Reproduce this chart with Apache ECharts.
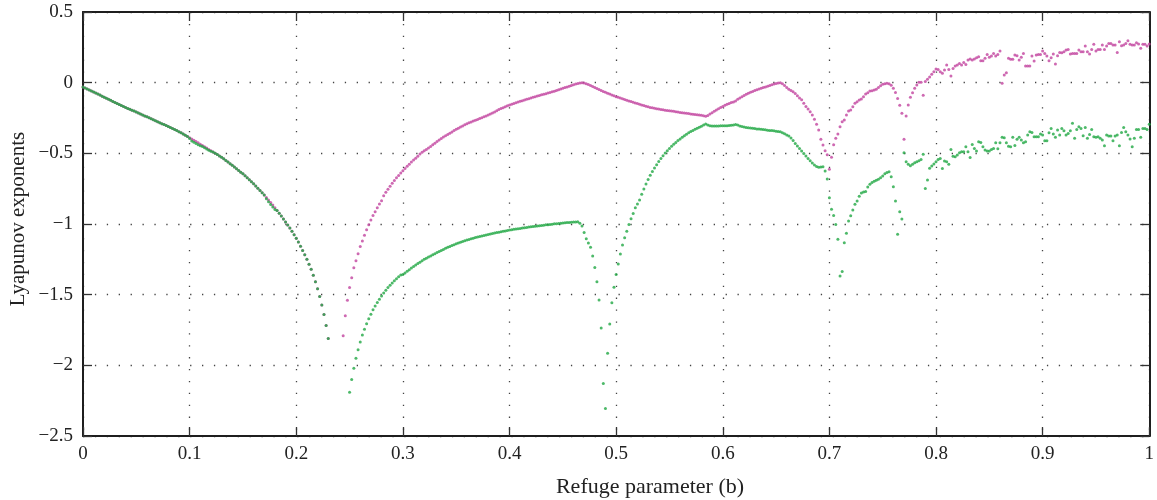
<!DOCTYPE html>
<html>
<head>
<meta charset="utf-8">
<script src="https://cdn.jsdelivr.net/npm/echarts@6/dist/echarts.min.js"></script>
<style>
  html, body { margin: 0; padding: 0; background: #ffffff; }
  #chart { width: 1157px; height: 500px; }
</style>
</head>
<body>
<div id="chart"></div>
<script>
// Sweep of the refuge parameter b, sampled every 0.002
const refugeStep = 0.002;

// Tick positions
const xTicks = [0, 0.1, 0.2, 0.3, 0.4, 0.5, 0.6, 0.7, 0.8, 0.9, 1];
const yTicks = [0.5, 0, -0.5, -1, -1.5, -2, -2.5];

// Largest Lyapunov exponent (magenta), one array per continuous stretch of b
const lyap1From0 = [
  -0.030,-0.037,-0.044,-0.052,-0.059,-0.066,-0.073,-0.081,-0.088,-0.096,
  -0.103,-0.110,-0.118,-0.125,-0.133,-0.140,-0.147,-0.154,-0.161,-0.168,
  -0.175,-0.182,-0.188,-0.195,-0.201,-0.208,-0.215,-0.222,-0.228,-0.235,
  -0.242,-0.249,-0.256,-0.262,-0.269,-0.276,-0.283,-0.290,-0.296,-0.303,
  -0.310,-0.317,-0.325,-0.332,-0.339,-0.347,-0.355,-0.363,-0.372,-0.381,
  -0.390,-0.399,-0.408,-0.417,-0.426,-0.435,-0.444,-0.454,-0.463,-0.473,
  -0.482,-0.491,-0.500,-0.509,-0.518,-0.527,-0.538,-0.550,-0.561,-0.573,
  -0.585,-0.597,-0.609,-0.621,-0.633,-0.645,-0.659,-0.673,-0.687,-0.701,
  -0.715,-0.731,-0.747,-0.763,-0.779,-0.795,-0.812,-0.830,-0.848,-0.866,
  -0.885,-0.904,-0.924,-0.944,-0.964,-0.985,-1.007,-1.029,-1.052,-1.076,
  -1.100,-1.128,-1.157,-1.187,-1.218,-1.250,-1.284,-1.320,-1.362,-1.408,
  -1.458,-1.513,-1.573,-1.640,-1.718,-1.810
];
const lyap1From0244 = [
  -1.79,-1.65,-1.54,-1.45,-1.38,-1.31,-1.26,-1.21,-1.16,-1.12,
  -1.08,-1.04,-1.005,-0.972,-0.939,-0.913,-0.885,-0.859,-0.835,
  -0.800,-0.776,-0.755,-0.733,-0.712,-0.692,-0.673,-0.656,-0.640,-0.624,
  -0.608,-0.592,-0.577,-0.562,-0.548,-0.534,-0.520,
  -0.505,-0.493,-0.482,-0.472,-0.462,-0.452,-0.440,-0.428,-0.416,-0.405,
  -0.395,-0.385,-0.376,-0.367,-0.358,-0.349,-0.339,-0.330,-0.322,-0.314,
  -0.306,-0.298,-0.290,-0.284,-0.278,-0.272,-0.266,-0.260,-0.254,-0.248,
  -0.242,-0.235,-0.228,-0.221,-0.214,-0.207,-0.199,-0.190,-0.183,-0.177,
  -0.170,-0.164,-0.158,-0.152,-0.147,-0.142,-0.137,-0.132,-0.128,-0.123,
  -0.118,-0.113,-0.108,-0.104,-0.099,-0.095,-0.091,-0.086,-0.082,-0.078,
  -0.073,-0.069,-0.064,-0.060,-0.055,-0.050,-0.045,-0.040,-0.035,-0.030,
  -0.025,-0.020,-0.015,-0.010,-0.006,-0.002,0.000
];
const lyap1From047 = [
  -0.002,-0.007,-0.013,-0.020,-0.027,-0.034,-0.041,-0.048,-0.055,-0.062,
  -0.068,-0.074,-0.081,-0.087,-0.093,-0.099,-0.104,-0.109,-0.114,-0.119,
  -0.124,-0.129,-0.134,-0.139,-0.144,-0.148,-0.153,-0.158,-0.162,-0.167,
  -0.171,-0.175,-0.178,-0.181,-0.184,-0.187,-0.190,-0.192,-0.195,-0.197,
  -0.199,-0.201,-0.203,-0.206,-0.208,-0.211,-0.213,-0.215,-0.217,-0.219,
  -0.221,-0.223,-0.225,-0.227,-0.229,-0.231,-0.234,-0.237,
  -0.232,-0.222,-0.212,-0.203,-0.194,-0.185,-0.176,-0.168,-0.160,-0.153,
  -0.147,-0.141,-0.136,-0.130,-0.118,-0.108,-0.099,-0.090,-0.082,-0.075,
  -0.068,-0.062,-0.056,-0.050,-0.045,-0.040,-0.035,-0.030,-0.025,-0.020,
  -0.015,-0.010,-0.006,-0.002,0.000
];
const lyap1From0656 = [
  -0.008,-0.020,-0.035,-0.047,-0.055,-0.065,-0.077,-0.092,-0.108,-0.121,
  -0.145,-0.168,-0.186,-0.206,-0.228,-0.258,-0.295,-0.335,-0.400,-0.441,
  -0.481,-0.510,-0.613,-0.528,-0.439,-0.394,-0.363,-0.312,-0.276,-0.264,
  -0.229,-0.200,-0.194,-0.170,-0.146,-0.135,-0.123,-0.116,-0.100,-0.081,
  -0.071,-0.059,-0.057,-0.052,-0.047,-0.035,-0.022,-0.012,
  -0.008,-0.005,-0.007,-0.018,-0.040,-0.070,-0.112,-0.160,-0.217,-0.401,
  -0.236,-0.158,-0.104,-0.071,-0.040,-0.016,0.003,0.003,-0.089,0.008,
  0.024,0.040,0.059,0.078,0.097
];
const lyap1From0802 = [
  0.094,0.078,0.066,0.089,0.125,0.094,0.047,0.101,0.118,0.125,
  0.136,0.125,0.143,0.129,0.160,0.167,0.160,0.167,0.177,0.184,
  0.155,0.155,0.172,0.200,0.179,0.188,0.207,0.188,0.200,0.224,
  -0.005,0.054,0.070,0.172,0.165,0.165,0.195,0.191,0.160,0.179,
  0.207,0.118,0.118,0.118,0.188,0.153,0.195,0.200,0.200,0.224,
  0.207,0.188,0.155,0.177,0.202,0.132,0.191,0.214,0.212,0.219,
  0.231,0.235,0.202,0.207,0.207,0.207,0.231,0.219,0.219,0.259,
  0.219,0.202,0.235,0.271,0.224,0.235,0.235,0.266,0.235,0.259,
  0.278,0.278,0.266,0.266,0.214,0.290,0.261,0.266,0.278,0.297,
  0.271,0.266,0.266,0.283,0.273,0.243,0.271,0.271,0.259,0.273
];

// Second Lyapunov exponent (green)
const lyap2From0 = [
  -0.030,-0.037,-0.044,-0.052,-0.059,-0.066,-0.073,-0.081,-0.088,-0.096,
  -0.103,-0.110,-0.118,-0.125,-0.133,-0.140,-0.147,-0.154,-0.161,-0.168,
  -0.175,-0.182,-0.188,-0.195,-0.201,-0.208,-0.215,-0.222,-0.228,-0.235,
  -0.242,-0.249,-0.256,-0.262,-0.269,-0.276,-0.283,-0.290,-0.296,-0.303,
  -0.310,-0.317,-0.325,-0.332,-0.339,-0.347,-0.355,-0.363,-0.372,-0.381,
  -0.395,-0.412,-0.421,-0.430,-0.439,-0.447,-0.452,-0.461,-0.470,-0.479,
  -0.486,-0.491,-0.500,-0.509,-0.518,-0.527,-0.538,-0.550,-0.561,-0.573,
  -0.585,-0.597,-0.609,-0.621,-0.633,-0.645,-0.659,-0.673,-0.687,-0.701,
  -0.715,-0.731,-0.747,-0.763,-0.779,-0.795,-0.822,-0.842,-0.862,-0.880,
  -0.897,-0.904,-0.924,-0.944,-0.964,-0.985,-1.007,-1.029,-1.052,-1.076,
  -1.100,-1.128,-1.157,-1.187,-1.218,-1.250,-1.284,-1.320,-1.362,-1.408,
  -1.458,-1.513,-1.573,-1.640,-1.718,-1.810
];
const lyap2From025 = [
  -2.19,-2.10,-2.02,-1.95,-1.89,-1.835,-1.785,-1.745,-1.705,-1.67,
  -1.638,-1.607,-1.58,-1.555,-1.532,-1.51,-1.488,-1.468,-1.45,-1.433,
  -1.417,-1.402,-1.388,-1.374,-1.361,
  -1.358,-1.346,-1.335,-1.323,-1.312,-1.300,-1.290,-1.280,-1.270,-1.260,
  -1.250,-1.242,-1.234,-1.226,-1.218,-1.210,-1.202,-1.195,-1.187,-1.180,
  -1.172,-1.165,-1.159,-1.152,-1.146,-1.140,-1.135,-1.129,-1.124,-1.118,
  -1.113,-1.109,-1.105,-1.100,-1.096,-1.092,-1.088,-1.085,-1.081,-1.078,
  -1.074,-1.071,-1.068,-1.064,-1.061,-1.058,-1.055,-1.052,-1.049,-1.046,
  -1.043,-1.041,-1.038,-1.036,-1.033,-1.031,-1.029,-1.027,-1.024,-1.022,
  -1.020,-1.018,-1.016,-1.014,-1.012,-1.010,-1.008,-1.006,-1.005,-1.003,
  -1.001,-0.999,-0.998,-0.996,-0.995,-0.993,-0.992,-0.990,-0.989,-0.987,
  -0.986,-0.985,-0.984
];
const lyap2From0466 = [
  -0.995,-1.015,-1.060,-1.105,-1.135,-1.165,-1.227,-1.307,-1.409,-1.538,
  -1.736,-2.128,-2.305,-1.915,-1.708,-1.557,-1.448,-1.357,-1.283,-1.213,
  -1.149,-1.097,-1.052,-1.003,-0.963,-0.925,-0.885,-0.859,-0.830,-0.790,
  -0.752,-0.717,-0.685,-0.655,-0.628,-0.603,-0.580,-0.558,-0.537,-0.517,
  -0.498,-0.481,-0.465,-0.450,-0.436,-0.423,-0.410,-0.398,-0.386,-0.375,
  -0.365,-0.355,-0.346,-0.338,-0.330,-0.322,-0.315,-0.308,-0.300,-0.293
];
const lyap2From0586 = [
  -0.300,-0.305,-0.307,-0.307,-0.307,-0.306,-0.305,-0.305,-0.304,-0.304,
  -0.303,-0.302,-0.300,-0.296,-0.300,-0.306,-0.310,-0.314,-0.317,-0.319,
  -0.321,-0.323,-0.325,-0.327,-0.328,-0.330,-0.332,-0.334,-0.336,-0.338,
  -0.339,-0.341,-0.343,-0.345,-0.348,
  -0.355,-0.362,-0.370,-0.377,-0.392,-0.410,-0.430,-0.448,-0.466,-0.484,
  -0.502,-0.519,-0.536,-0.553,-0.569,-0.583,-0.594,-0.598,-0.597,-0.595,
  -0.625,-0.682,-0.814,-0.896,-0.939,-1.003,-1.108,-1.368,-1.336,-1.132,
  -1.066,-0.979,-0.942,-0.901,-0.861,-0.838,-0.804,-0.780,-0.773,-0.770,
  -0.738,-0.718,-0.706,-0.697,-0.691,-0.683,-0.672,-0.660,-0.645,-0.635,
  -0.630,-0.666,-0.736,-0.838,-1.073,-0.913,-0.965,-0.495,-0.559,-0.578,
  -0.588,-0.578,-0.566,-0.559,-0.552,-0.543,-0.507,-0.748,-0.689,-0.606,
  -0.590,-0.576,-0.559,-0.543
];
const lyap2From0804 = [
  -0.536,-0.607,-0.555,-0.560,-0.578,-0.472,-0.520,-0.524,-0.512,-0.496,
  -0.489,-0.489,-0.453,-0.489,-0.529,-0.437,-0.465,-0.484,-0.418,-0.423,
  -0.453,-0.477,-0.484,-0.484,-0.472,-0.465,-0.425,-0.468,-0.425,-0.387,
  -0.390,-0.425,-0.449,-0.453,-0.387,-0.444,-0.401,-0.387,-0.406,-0.425,
  -0.418,-0.371,-0.347,-0.352,-0.383,-0.383,-0.383,-0.364,-0.371,-0.411,
  -0.411,-0.354,-0.324,-0.364,-0.387,-0.335,-0.371,-0.324,-0.340,-0.371,
  -0.359,-0.340,-0.288,-0.394,-0.331,-0.312,-0.324,-0.375,-0.317,-0.394,
  -0.366,-0.331,-0.383,-0.387,-0.383,-0.394,-0.406,-0.446,-0.371,-0.378,
  -0.378,-0.411,-0.378,-0.371,-0.446,-0.352,-0.317,-0.347,-0.371,-0.399,
  -0.453,-0.394,-0.331,-0.331,-0.387,-0.324,-0.324,-0.331,-0.295
];

// Attach each stretch to its starting b value
function stretch(startB, values) {
  return values.map((v, k) => [+(startB + k * refugeStep).toFixed(4), v]);
}
const magentaPoints = [].concat(
  stretch(0, lyap1From0),
  stretch(0.244, lyap1From0244),
  stretch(0.470, lyap1From047),
  stretch(0.656, lyap1From0656),
  stretch(0.802, lyap1From0802)
);
const greenPoints = [].concat(
  stretch(0, lyap2From0),
  stretch(0.250, lyap2From025),
  stretch(0.466, lyap2From0466),
  stretch(0.586, lyap2From0586),
  stretch(0.804, lyap2From0804)
);

const serif = '"Liberation Serif", "DejaVu Serif", serif';
const frameColor = '#1e1e1e';
const gridDots = { color: '#444444', width: 1.3, type: [1.3, 10.6] };
const fmtNum = v => String(parseFloat(v.toFixed(1))).replace('-', '\u2212');
const tickStyle = { show: true, inside: true, length: 9, lineStyle: { color: '#333', width: 1.3 } };

const chart = echarts.init(document.getElementById('chart'), null, { renderer: 'canvas' });
chart.setOption({
  backgroundColor: '#ffffff',
  animation: false,
  grid: { left: 83, right: 6, top: 12, bottom: 64, containLabel: false },
  xAxis: [
    {
      type: 'value', min: xTicks[0], max: xTicks[xTicks.length - 1], interval: 0.1,
      axisLine: { show: true, onZero: false, lineStyle: { color: frameColor, width: 2 } },
      axisTick: tickStyle,
      axisLabel: { margin: 9, color: '#222', fontFamily: serif, fontSize: 19, formatter: fmtNum },
      splitLine: { show: true, lineStyle: gridDots }
    },
    {
      type: 'value', position: 'top', min: xTicks[0], max: xTicks[xTicks.length - 1], interval: 0.1,
      axisLine: { show: true, onZero: false, lineStyle: { color: frameColor, width: 2 } },
      axisTick: tickStyle,
      axisLabel: { show: false }, splitLine: { show: false }
    }
  ],
  yAxis: [
    {
      type: 'value', min: yTicks[yTicks.length - 1], max: yTicks[0], interval: 0.5,
      axisLine: { show: true, onZero: false, lineStyle: { color: frameColor, width: 2 } },
      axisTick: tickStyle,
      axisLabel: { margin: 10, color: '#222', fontFamily: serif, fontSize: 19, formatter: fmtNum },
      splitLine: { show: true, lineStyle: gridDots }
    },
    {
      type: 'value', position: 'right', min: yTicks[yTicks.length - 1], max: yTicks[0], interval: 0.5,
      axisLine: { show: true, onZero: false, lineStyle: { color: frameColor, width: 2 } },
      axisTick: tickStyle,
      axisLabel: { show: false }, splitLine: { show: false }
    }
  ],
  graphic: [
    {
      type: 'text', x: 650, y: 487,
      style: { text: 'Refuge parameter (b)', font: '22px ' + serif, fill: '#222', align: 'center', verticalAlign: 'middle' }
    },
    {
      type: 'text', x: 18, y: 219, rotation: Math.PI / 2,
      style: { text: 'Lyapunov exponents', font: '21px ' + serif, fill: '#222', align: 'center', verticalAlign: 'middle' }
    }
  ],
  series: [
    {
      name: 'λ1', type: 'scatter', xAxisIndex: 0, yAxisIndex: 0,
      data: magentaPoints, symbol: 'circle', symbolSize: 3,
      itemStyle: { color: '#c2449f' }, silent: true, clip: true
    },
    {
      name: 'λ2', type: 'scatter', xAxisIndex: 0, yAxisIndex: 0,
      data: greenPoints, symbol: 'circle', symbolSize: 3,
      itemStyle: { color: '#21a843' }, silent: true, clip: true
    }
  ]
});
</script>
</body>
</html>
